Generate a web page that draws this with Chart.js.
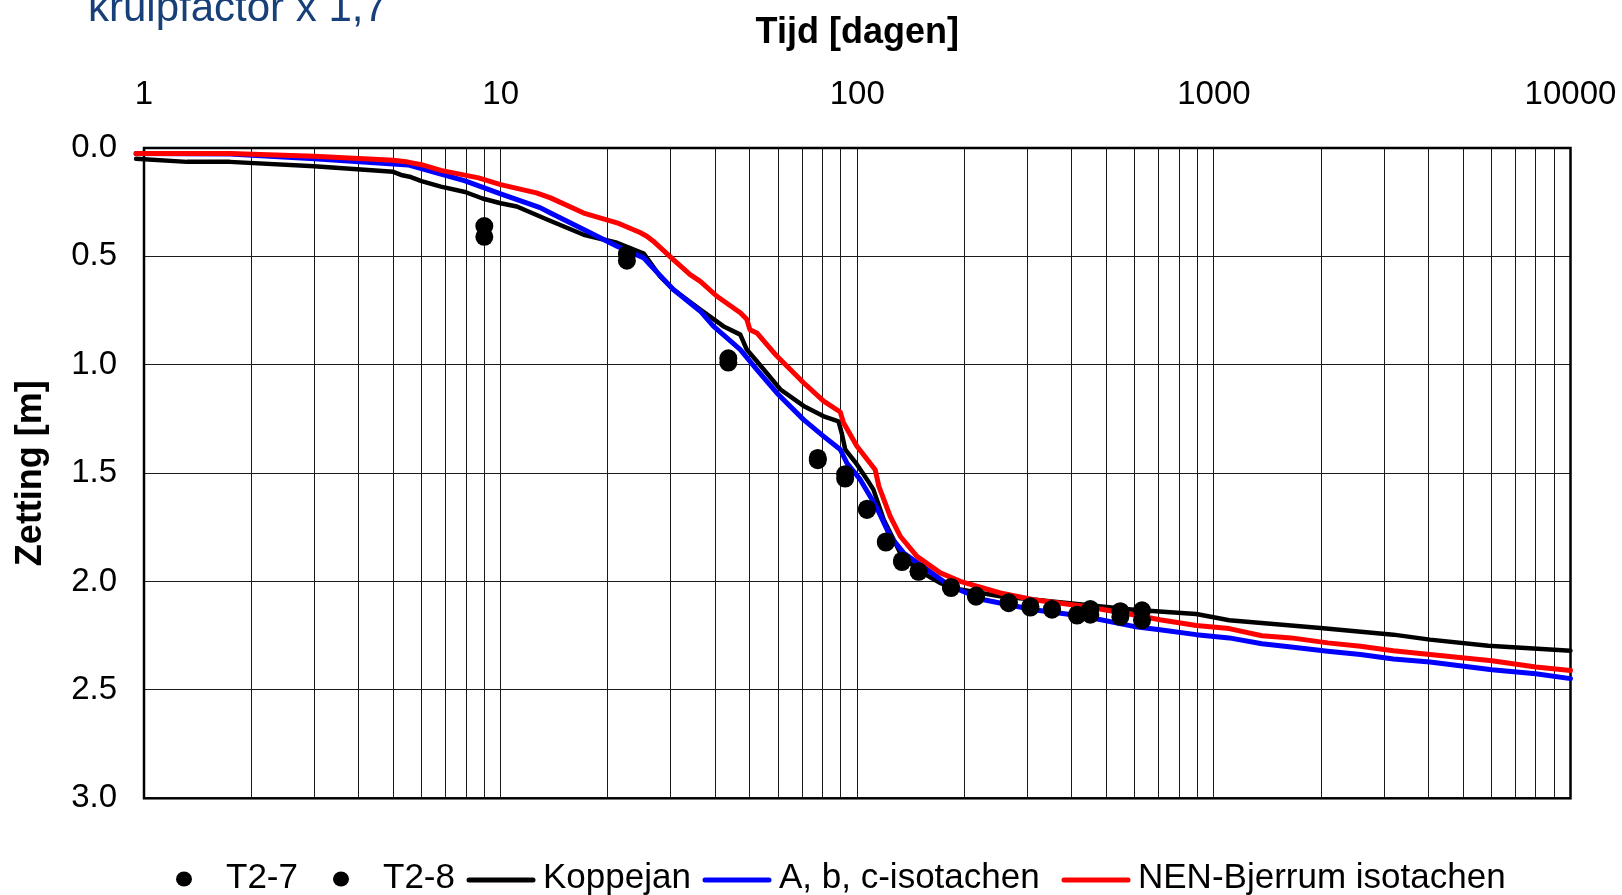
<!DOCTYPE html>
<html lang="nl">
<head>
<meta charset="utf-8">
<title>Zetting in de tijd</title>
<script src="https://cdn.jsdelivr.net/npm/chart.js@4.4.1/dist/chart.umd.min.js"></script>
<style>
  html, body { margin: 0; padding: 0; background: #fff; }
  #zetting { display: block; }
</style>
</head>
<body>
<canvas id="zetting" width="1622" height="895"></canvas>
<script>
// Meetpunten (zakbakens), tijd in dagen en zetting in m
const meetDagen = [9.0, 22.6, 43.5, 77.5, 92.5, 106.5, 120.3, 133.5, 148.6, 183.2, 215.3, 265.8, 305.7, 351.6, 413.4, 450.4, 546.7, 628.9];
const zettingT27 = [0.36, 0.49, 0.97, 1.43, 1.505, 1.664, 1.815, 1.904, 1.953, 2.025, 2.065, 2.096, 2.114, 2.127, 2.153, 2.127, 2.137, 2.133];
const zettingT28 = [0.41, 0.52, 0.99, 1.44, 1.525, 1.67, 1.82, 1.91, 1.955, 2.03, 2.07, 2.10, 2.12, 2.13, 2.157, 2.153, 2.163, 2.179];

// Berekende zettingskrommen
const koppejanDagen = [0.95, 1.32, 1.74, 3.0, 5.0, 5.3, 5.6, 6.0, 6.8, 7.95, 8.9, 10, 11.1, 13.5, 17.1, 21.2, 25.2, 28, 30.5, 36.3, 42.1, 47, 49, 52.3, 60.9, 70.7, 80.5, 88.6, 90.6, 92.5, 99.8, 106.6, 111, 118.6, 132, 147, 171, 194.5, 251.8, 387.5, 595.7, 892.5, 1104, 1990, 3186, 4034, 5881, 10000];
const koppejanZetting = [0.05, 0.064, 0.064, 0.084, 0.11, 0.126, 0.134, 0.153, 0.178, 0.203, 0.233, 0.255, 0.27, 0.33, 0.40, 0.437, 0.487, 0.592, 0.653, 0.745, 0.822, 0.861, 0.93, 0.984, 1.114, 1.19, 1.238, 1.261, 1.32, 1.39, 1.46, 1.53, 1.576, 1.714, 1.868, 1.945, 2.007, 2.037, 2.068, 2.099, 2.13, 2.15, 2.179, 2.214, 2.245, 2.268, 2.296, 2.319];

const abcDagen = [0.95, 1.74, 3.0, 5.5, 6.8, 7.95, 10, 12.9, 13.8, 17.1, 21.2, 25.2, 26.2, 30.5, 36.3, 39.5, 47, 52.3, 59.5, 70.7, 80.5, 89.6, 93.5, 102, 113.5, 123.7, 134.9, 156.9, 182.4, 226.1, 312.4, 431.3, 595.7, 705.6, 892.5, 1104, 1364, 1648, 2085, 2578, 3186, 4034, 6020, 7989, 10000];
const abcZetting = [0.025, 0.028, 0.05, 0.078, 0.12, 0.152, 0.212, 0.275, 0.30, 0.376, 0.453, 0.507, 0.538, 0.653, 0.753, 0.822, 0.93, 1.022, 1.13, 1.253, 1.33, 1.391, 1.453, 1.53, 1.66, 1.791, 1.868, 1.945, 2.022, 2.084, 2.13, 2.16, 2.207, 2.222, 2.245, 2.26, 2.287, 2.302, 2.322, 2.337, 2.357, 2.371, 2.407, 2.425, 2.448];

const nenDagen = [0.95, 1.74, 3.0, 5.0, 5.5, 6.0, 6.8, 8.67, 10, 12.6, 13.8, 17.1, 21.2, 24.6, 25.7, 26.8, 30.5, 34, 36.3, 40.4, 47, 49, 50, 52.3, 59.5, 70.7, 80.5, 89.6, 91.5, 99.8, 112.3, 115, 123.7, 132, 147, 171, 194.5, 251.8, 312.4, 431.3, 595.7, 705.6, 892.5, 1104, 1364, 1648, 2085, 2578, 3186, 4034, 6020, 7989, 10000];
const nenZetting = [0.025, 0.025, 0.038, 0.057, 0.065, 0.077, 0.103, 0.138, 0.169, 0.207, 0.23, 0.30, 0.345, 0.39, 0.407, 0.43, 0.515, 0.584, 0.615, 0.684, 0.76, 0.79, 0.838, 0.853, 0.96, 1.083, 1.168, 1.218, 1.268, 1.376, 1.484, 1.561, 1.699, 1.791, 1.884, 1.96, 1.999, 2.053, 2.084, 2.114, 2.153, 2.176, 2.203, 2.217, 2.25, 2.26, 2.283, 2.299, 2.319, 2.337, 2.365, 2.394, 2.41];

// As-labels
const decadeLabels = [1, 10, 100, 1000, 10000];
const zettingTicks = [0, 0.5, 1.0, 1.5, 2.0, 2.5, 3.0];

const FONT = "'Liberation Sans', Arial, sans-serif";
Chart.defaults.font.family = FONT;
Chart.defaults.color = "#000";

const toPoints = (xs, ys) => xs.map((x, i) => ({ x, y: ys[i] }));

// rasterlijnen op 1..9 per decade
const logGrid = [];
decadeLabels.slice(0, -1).forEach(d => {
  for (let m = 1; m <= 9; m++) logGrid.push(d * m);
});
logGrid.push(decadeLabels[decadeLabels.length - 1]);

const puntStijl = {
  showLine: false,
  pointRadius: 9,
  pointHoverRadius: 9,
  pointBackgroundColor: "#000",
  pointBorderWidth: 0,
  borderColor: "#000",
  backgroundColor: "#000",
  order: 0,
};

const lijnStijl = {
  showLine: true,
  pointRadius: 0,
  pointHoverRadius: 0,
  borderWidth: 5,
  borderCapStyle: "round",
  borderJoinStyle: "round",
  tension: 0,
  clip: false,
};

// kader om het grafiekvlak
const plotFrame = {
  id: "plotFrame",
  beforeDatasetsDraw(chart) {
    const { ctx, chartArea: a } = chart;
    ctx.save();
    ctx.strokeStyle = "#000";
    ctx.lineWidth = 2.5;
    ctx.strokeRect(a.left, a.top, a.right - a.left, a.bottom - a.top);
    ctx.restore();
  },
};

// legenda onder de grafiek en de kop linksboven
const bottomLegend = {
  id: "bottomLegend",
  afterDraw(chart, _args, opts) {
    const { ctx } = chart;
    ctx.save();
    ctx.font = `${opts.fontSize}px ${FONT}`;
    ctx.textBaseline = "alphabetic";
    ctx.textAlign = "left";
    chart.data.datasets.forEach((ds, i) => {
      const x0 = opts.itemX[i];
      const cx = x0 + opts.markerWidth / 2;
      if (ds.showLine) {
        ctx.strokeStyle = ds.borderColor;
        ctx.lineWidth = 5;
        ctx.lineCap = "round";
        ctx.beginPath();
        ctx.moveTo(x0 + 2, opts.markerY);
        ctx.lineTo(x0 + opts.markerWidth - 2, opts.markerY);
        ctx.stroke();
      } else {
        ctx.fillStyle = ds.pointBackgroundColor;
        ctx.beginPath();
        ctx.ellipse(cx, opts.markerY - 1, 8, 7.5, 0, 0, Math.PI * 2);
        ctx.fill();
      }
      ctx.fillStyle = "#000";
      ctx.fillText(ds.label, x0 + opts.markerWidth + opts.textGap, opts.baseline);
    });

    ctx.fillStyle = "#173F78";
    ctx.font = `42px ${FONT}`;
    ctx.fillText("kruipfactor x 1,7", 88, 21);
    ctx.restore();
  },
};

new Chart(document.getElementById("zetting"), {
  type: "scatter",
  data: {
    datasets: [
      { ...puntStijl, label: "T2-7", data: toPoints(meetDagen, zettingT27) },
      { ...puntStijl, label: "T2-8", data: toPoints(meetDagen, zettingT28) },
      { ...lijnStijl, label: "Koppejan", data: toPoints(koppejanDagen, koppejanZetting), borderColor: "#000", backgroundColor: "#000", borderWidth: 4.5, order: 3 },
      { ...lijnStijl, label: "A, b, c-isotachen", data: toPoints(abcDagen, abcZetting), borderColor: "#0000FF", backgroundColor: "#0000FF", order: 2 },
      { ...lijnStijl, label: "NEN-Bjerrum isotachen", data: toPoints(nenDagen, nenZetting), borderColor: "#FF0000", backgroundColor: "#FF0000", order: 1 },
    ],
  },
  options: {
    responsive: false,
    animation: false,
    events: [],
    layout: { padding: { left: 0, top: 0, right: 51.5, bottom: 96.7 } },
    scales: {
      x: {
        type: "logarithmic",
        position: "top",
        min: 1,
        max: 10000,
        afterBuildTicks: scale => {
          scale.ticks = logGrid.map(v => ({ value: v, major: decadeLabels.includes(v) }));
        },
        afterFit: scale => {
          scale.height = 148;
          // het label "10000" mag over de rechterrand uitsteken
          scale.paddingLeft = 0;
          scale.paddingRight = 0;
        },
        grid: { color: "#1a1a1a", lineWidth: 1, drawTicks: false },
        border: { display: false },
        ticks: {
          autoSkip: false,
          maxRotation: 0,
          minRotation: 0,
          padding: 33,
          font: { size: 33 },
          callback: v => (decadeLabels.includes(v) ? String(v) : ""),
        },
        title: {
          display: true,
          text: "Tijd [dagen]",
          font: { size: 36, weight: "bold" },
          padding: { top: 11, bottom: 0 },
        },
      },
      y: {
        reverse: true,
        min: 0,
        max: 3,
        afterBuildTicks: scale => {
          scale.ticks = zettingTicks.map(v => ({ value: v }));
        },
        afterFit: scale => { scale.width = 144; },
        grid: { color: "#1a1a1a", lineWidth: 1, drawTicks: false },
        border: { display: false },
        ticks: {
          padding: 27,
          font: { size: 33 },
          callback: v => Number(v).toFixed(1),
        },
        title: {
          display: true,
          text: "Zetting [m]",
          font: { size: 36, weight: "bold" },
          padding: { top: 9, bottom: 0 },
        },
      },
    },
    plugins: {
      legend: { display: false },
      tooltip: { enabled: false },
      bottomLegend: {
        itemX: [150, 307, 467, 703, 1062],
        markerWidth: 68,
        textGap: 8,
        markerY: 880,
        baseline: 887.5,
        fontSize: 35,
      },
    },
  },
  plugins: [plotFrame, bottomLegend],
});
</script>
</body>
</html>
